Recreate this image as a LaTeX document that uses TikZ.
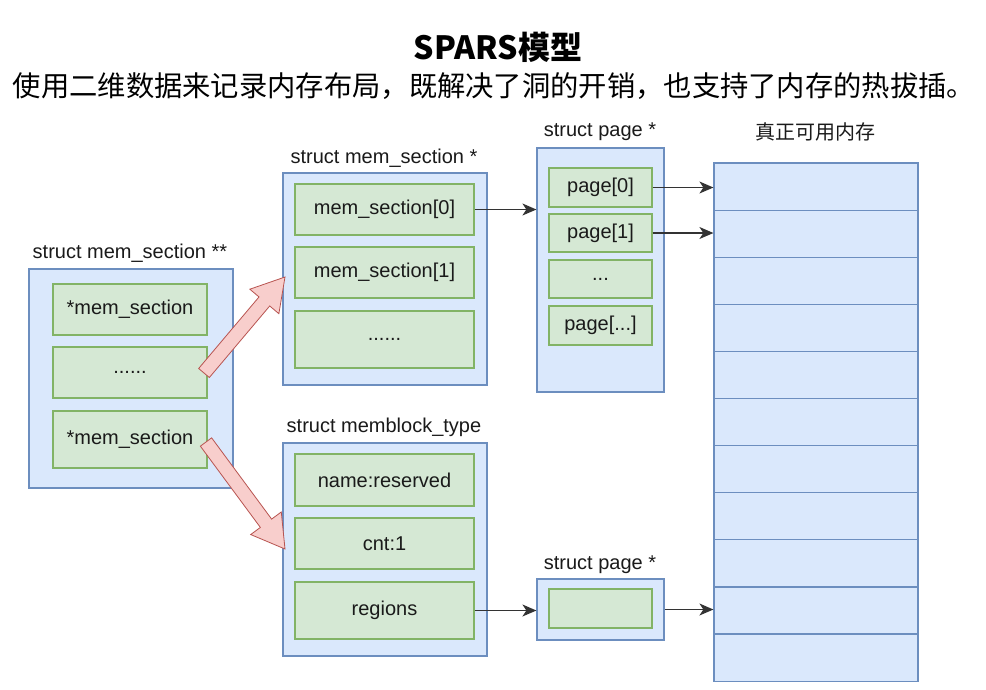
\documentclass[tikz,border=0pt]{standalone}
\usepackage{fontspec}
\setmainfont{Liberation Sans}
\newfontfamily\cjk{Noto Sans CJK SC}
\usetikzlibrary{calc,arrows.meta}
\definecolor{bluefill}{HTML}{DAE8FC}
\definecolor{blueline}{HTML}{6C8EBF}
\definecolor{greenfill}{HTML}{D5E8D4}
\definecolor{greenline}{HTML}{82B366}
\definecolor{pinkfill}{HTML}{F8CECC}
\definecolor{pinkline}{HTML}{B85450}
\definecolor{txt}{HTML}{1A1A1A}
\tikzset{
  outerbox/.style={draw=blueline,fill=bluefill,line width=1.2pt,inner sep=0pt},
  field/.style={draw=greenline,fill=greenfill,line width=1.2pt,inner sep=0pt,
    text=txt,font=\fontsize{20}{24}\selectfont},
  lbl/.style={inner sep=0pt,text=txt,font=\fontsize{20}{24}\selectfont},
  memrow/.style={draw=blueline,fill=bluefill,line width=1.2pt,inner sep=0pt,
    minimum width=204pt,minimum height=47.1pt},
  conn/.style={draw=black!80,line width=1.2pt,-{Stealth[length=14pt,width=12pt,inset=4pt]}},
  bigarrow/.style={draw=pinkline,fill=pinkfill,line width=0.8pt,line join=miter},
}
\begin{document}
\begin{tikzpicture}[x=1pt,y=-1pt]
\useasboundingbox (0,0) rectangle (986,689);
\fill[white] (0,0) rectangle (986,689);

% titles
\node[inner sep=0pt,font=\cjk\bfseries\fontsize{32}{38}\selectfont] (title) at (498,47) {SPARS模型};
\node[inner sep=0pt,font=\cjk\fontsize{28.3}{34}\selectfont] (subtitle) at (494,86) {使用二维数据来记录内存布局，既解决了洞的开销，也支持了内存的热拔插。};

% left: struct mem_section **
\node[lbl] (Llbl) at (130,253) {struct mem\_section **};
\node[outerbox,minimum width=204pt,minimum height=219pt] (L) at (131,378.5) {};
\node[field,minimum width=154pt,minimum height=51pt] (L1) at (130,309.5) {*mem\_section};
\node[field,minimum width=154pt,minimum height=51pt] (L2) at (130,372.5) {......};
\node[field,minimum width=154pt,minimum height=57pt] (L3) at (130,439.5) {*mem\_section};

% middle top: struct mem_section *
\node[lbl] (Mlbl) at (384,158) {struct mem\_section *};
\node[outerbox,minimum width=204pt,minimum height=212pt] (M) at (385,279) {};
\node[field,minimum width=179pt,minimum height=51pt] (M1) at (384.5,209.5) {mem\_section[0]};
\node[field,minimum width=179pt,minimum height=51pt] (M2) at (384.5,272.5) {mem\_section[1]};
\node[field,minimum width=179pt,minimum height=57pt] (M3) at (384.5,339.5) {......};

% middle bottom: struct memblock_type
\node[lbl] (Blbl) at (384,427) {struct memblock\_type};
\node[outerbox,minimum width=204pt,minimum height=213pt] (B) at (385,549.5) {};
\node[field,minimum width=179pt,minimum height=52pt] (B1) at (384.5,480) {name:reserved};
\node[field,minimum width=179pt,minimum height=51pt] (B2) at (384.5,543.5) {cnt:1};
\node[field,minimum width=179pt,minimum height=57pt] (B3) at (384.5,610.5) {regions};

% struct page * (top)
\node[lbl] (Plbl) at (600,132) {struct page *};
\node[outerbox,minimum width=127pt,minimum height=244pt] (P) at (600.5,270) {};
\node[field,minimum width=103pt,minimum height=39pt] (P1) at (600.5,187.5) {page[0]};
\node[field,minimum width=103pt,minimum height=38pt] (P2) at (600.5,233) {page[1]};
\node[field,minimum width=103pt,minimum height=38pt] (P3) at (600.5,279) {...};
\node[field,minimum width=103pt,minimum height=39pt] (P4) at (600.5,325.5) {page[...]};

% struct page * (bottom)
\node[lbl] (Qlbl) at (600,565) {struct page *};
\node[outerbox,minimum width=127pt,minimum height=61pt] (Q) at (600.5,609.5) {};
\node[field,minimum width=103pt,minimum height=39pt] (Q1) at (600.5,608.5) {};

% real memory
\node[inner sep=0pt,text=txt,font=\cjk\fontsize{20}{24}\selectfont] (memlbl) at (815,132) {真正可用内存};
\foreach \i in {1,...,11} {
  \node[memrow] (mem\i) at (816,{163+47.1*(\i-0.5)}) {};
}

% connectors
\draw[conn] (M1.east) -- (M1.east -| P.west);
\draw[conn] (P1.east) -- (P1.east -| mem1.west);
\draw[conn] (P2.east) -- (P2.east -| mem2.west);
\draw[conn] (B3.east) -- (B3.east -| Q.west);
\draw[conn] (Q.east) -- (Q.east -| mem10.west);

% big pink arrows
\coordinate (t1) at (204,373);
\coordinate (p1) at (285,277);
\coordinate (h1) at ($(p1)!32pt!(t1)$);
\draw[bigarrow] ($(t1)!7pt!90:(p1)$) -- ($(h1)!7pt!-90:(t1)$) -- ($(h1)!19pt!-90:(t1)$) -- (p1)
  -- ($(h1)!19pt!90:(t1)$) -- ($(h1)!7pt!90:(t1)$) -- ($(t1)!7pt!-90:(p1)$) -- cycle;
\coordinate (t2) at (206,442);
\coordinate (p2) at (285,549);
\coordinate (h2) at ($(p2)!32pt!(t2)$);
\draw[bigarrow] ($(t2)!7pt!90:(p2)$) -- ($(h2)!7pt!-90:(t2)$) -- ($(h2)!19pt!-90:(t2)$) -- (p2)
  -- ($(h2)!19pt!90:(t2)$) -- ($(h2)!7pt!90:(t2)$) -- ($(t2)!7pt!-90:(p2)$) -- cycle;
\end{tikzpicture}
\end{document}
